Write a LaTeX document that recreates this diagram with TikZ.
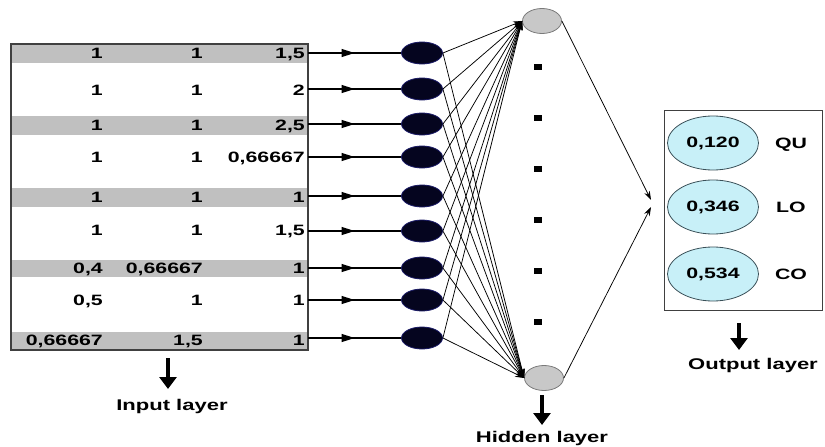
\documentclass[tikz,border=0pt]{standalone}
\usepackage{fontspec}
\setmainfont[FakeStretch=1.42]{Liberation Sans}
\usetikzlibrary{arrows.meta,decorations.markings,shapes.geometric}

\definecolor{bandgray}{HTML}{C0C0C0}
\definecolor{framegray}{HTML}{404040}
\definecolor{inputfill}{HTML}{05051F}
\definecolor{inputedge}{HTML}{1A1A66}
\definecolor{hiddenfill}{HTML}{C8C8C8}
\definecolor{hiddenedge}{HTML}{7A7A7A}
\definecolor{outfill}{HTML}{C8F0F8}
\definecolor{outedge}{HTML}{3A5058}

\begin{document}
\begin{tikzpicture}[x=1pt,y=-1pt,
  cell/.style={anchor=east,inner sep=0pt,text height=10.5pt,text depth=0pt,
    font=\bfseries\fontsize{15}{16}\selectfont},
  caption/.style={inner sep=0pt,text height=11.2pt,text depth=0pt,
    font=\bfseries\fontsize{15.5}{16}\selectfont},
  inode/.style={ellipse,minimum width=41pt,minimum height=22pt,inner sep=0pt,
    fill=inputfill,draw=inputedge,line width=0.8pt},
  hnode/.style={ellipse,minimum width=39pt,minimum height=25pt,inner sep=0pt,
    fill=hiddenfill,draw=hiddenedge,line width=0.8pt},
  onode/.style={ellipse,minimum width=91pt,minimum height=54pt,inner sep=0pt,
    fill=outfill,draw=outedge,line width=0.8pt,
    font=\bfseries\fontsize{15}{16}\selectfont},
  dotsq/.style={rectangle,minimum width=8pt,minimum height=6pt,inner sep=0pt,fill=black},
  rowarrow/.style={line width=1.3pt,postaction={decorate},
    decoration={markings,mark=at position 0.5 with {\arrow{Triangle[length=13pt,width=8pt]}}}},
  link/.style={line width=0.75pt,-{Stealth[length=9pt,width=6pt]}},
  downarrow/.style={line width=4.2pt,-{Triangle[length=12pt,width=17pt]}}
]
\useasboundingbox (0,0) rectangle (825,447);

% shaded rows of the input table
\foreach \top/\bot in {44/63,116/135,188/207,260/277,332/349}
  \fill[bandgray] (12,\top) rectangle (307,\bot);
\draw[framegray,line width=1.5pt] (11,44) rectangle (308,350);

% table entries
\node[cell] (c11) at (103,53) {1};  \node[cell] (c12) at (203,53) {1};  \node[cell] (c13) at (305,53) {1,5};
\node[cell] (c21) at (103,90) {1};  \node[cell] (c22) at (203,90) {1};  \node[cell] (c23) at (305,90) {2};
\node[cell] (c31) at (103,125) {1}; \node[cell] (c32) at (203,125) {1}; \node[cell] (c33) at (305,125) {2,5};
\node[cell] (c41) at (103,157) {1}; \node[cell] (c42) at (203,157) {1}; \node[cell] (c43) at (305,157) {0,66667};
\node[cell] (c51) at (103,197) {1}; \node[cell] (c52) at (203,197) {1}; \node[cell] (c53) at (305,197) {1};
\node[cell] (c61) at (103,230) {1}; \node[cell] (c62) at (203,230) {1}; \node[cell] (c63) at (305,230) {1,5};
\node[cell] (c71) at (103,268) {0,4}; \node[cell] (c72) at (203,268) {0,66667}; \node[cell] (c73) at (305,268) {1};
\node[cell] (c81) at (103,300) {0,5}; \node[cell] (c82) at (203,300) {1}; \node[cell] (c83) at (305,300) {1};
\node[cell] (c91) at (103,340) {0,66667}; \node[cell] (c92) at (203,340) {1,5}; \node[cell] (c93) at (305,340) {1};

% input neurons, one per table row
\foreach \i/\y in {1/53,2/89,3/124,4/157,5/196,6/231,7/268,8/300,9/338} {
  \coordinate (t\i) at (308,\y);
  \node[inode] (n\i) at (422,\y) {};
  \draw[rowarrow] (t\i) -- (n\i.west);
}

% hidden layer
\node[hnode] (h1) at (542,21) {};
\node[hnode] (h2) at (544,378) {};
\foreach \i/\y in {1/67,2/118,3/169,4/220,5/271,6/322}
  \node[dotsq] (d\i) at (538,\y) {};

\foreach \i in {1,...,9} {
  \draw[link] (n\i.east) -- (h1.west);
  \draw[link] (n\i.east) -- (h2.west);
}

% output layer
\node[draw=framegray,line width=1pt,rectangle,minimum width=158pt,minimum height=200pt,inner sep=0pt]
  (obox) at (743,210) {};
\coordinate (o1) at (651,200);
\coordinate (o2) at (651,207);
\draw[link] (h1.east) -- (o1);
\draw[link] (h2.east) -- (o2);

\node[onode] (q1) at (713,143) {0,120};
\node[onode] (q2) at (713,207) {0,346};
\node[onode] (q3) at (713,274) {0,534};
\node[cell,anchor=center] (l1) at (791,143) {QU};
\node[cell,anchor=center] (l2) at (791,207) {LO};
\node[cell,anchor=center] (l3) at (791,274) {CO};

% layer captions
\coordinate (ia) at (168,358); \coordinate (ib) at (168,389);
\draw[downarrow] (ia) -- (ib);
\node[caption] (cin) at (172,405) {Input layer};

\coordinate (ha) at (542,395); \coordinate (hb) at (542,425);
\draw[downarrow] (ha) -- (hb);
\node[caption] (chid) at (542,437) {Hidden layer};

\coordinate (oa) at (739,323); \coordinate (ob) at (739,350);
\draw[downarrow] (oa) -- (ob);
\node[caption] (cout) at (753,364) {Output layer};
\end{tikzpicture}
\end{document}
